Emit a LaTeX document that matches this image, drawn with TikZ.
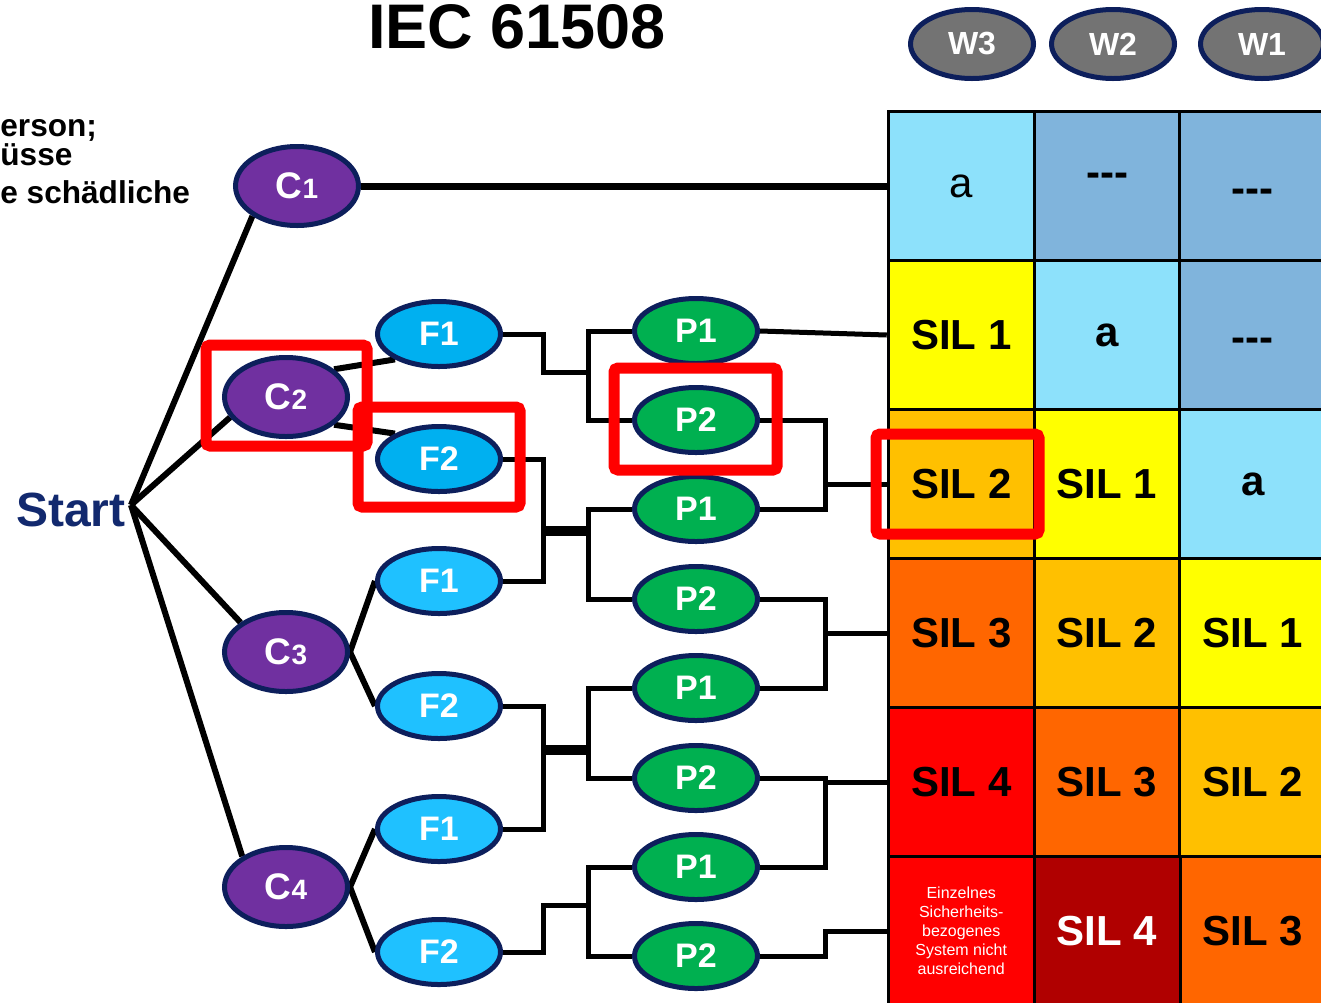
\documentclass[tikz,border=0pt]{standalone}
\usepackage{fontspec}
\setmainfont{Liberation Sans}
\usepackage{tikz}
\usetikzlibrary{shapes.geometric,backgrounds}
\definecolor{navyline}{HTML}{0D1F5C}
\definecolor{startnavy}{HTML}{12296E}
\definecolor{cpurple}{HTML}{7030A0}
\definecolor{fblue}{HTML}{00B0F0}
\definecolor{flight}{HTML}{1FC1FF}
\definecolor{pgreen}{HTML}{00B050}
\definecolor{wgray}{HTML}{737373}
\definecolor{cyanc}{HTML}{8DE1FB}
\definecolor{steel}{HTML}{80B4DC}
\definecolor{silyellow}{HTML}{FFFF00}
\definecolor{silamber}{HTML}{FFC000}
\definecolor{silorange}{HTML}{FF6600}
\definecolor{silred}{HTML}{FF0000}
\definecolor{sildark}{HTML}{B00000}
\definecolor{hlred}{HTML}{FF0000}
\newcommand\titlefnt{\fontsize{31.5}{36}\selectfont\bfseries}
\newcommand\sidefnt{\fontsize{15.8}{18}\selectfont\bfseries}
\newcommand\startfnt{\fontsize{24}{28}\selectfont\bfseries}
\newcommand\cfnt{\fontsize{18.5}{22}\selectfont\bfseries}
\newcommand\ovfnt{\fontsize{17}{20}\selectfont\bfseries}
\newcommand\wfnt{\fontsize{16}{19}\selectfont\bfseries}
\newcommand\silfnt{\fontsize{21}{25}\selectfont\bfseries}
\newcommand\notefnt{\fontsize{8}{9.5}\selectfont}
\newcommand\clabel[1]{C{\fontsize{14}{16}\selectfont#1}}
\newcommand\dashes[1]{\raisebox{#1}[0pt][0pt]{-{}-{}-}}

\begin{document}
\begin{tikzpicture}[x=0.5pt, y=-0.5pt,
    oval/.style={ellipse, draw=navyline, line width=2.5pt, inner sep=0pt, text=white,
                 font=\ovfnt, minimum width=61.5pt, minimum height=32.5pt},
    cnode/.style={oval, fill=cpurple, minimum height=39.5pt, font=\cfnt},
    fnode/.style={oval, fill=fblue},
    fnodel/.style={oval, fill=flight},
    pnode/.style={oval, fill=pgreen},
    wnode/.style={oval, fill=wgray, minimum height=34.5pt, font=\wfnt},
    cell/.style={draw=black, line width=1.5pt, minimum width=73pt, minimum height=74.5pt,
                 inner sep=0pt, font=\silfnt},
    link/.style={line width=2.5pt},
    trunk/.style={line width=3pt},
    joint/.style={line width=5pt},
    hl/.style={draw=hlred, line width=5.5pt, rounded corners=2pt}
]
    \useasboundingbox (0,0) rectangle (1321,1002);
    \clip (0,0) rectangle (1321,1002);

    % headings
    \node[font=\titlefnt, anchor=base, inner sep=0pt] (title) at (517,48) {IEC 61508};
    \node[font=\sidefnt, anchor=base west, inner sep=0pt] (side1) at (0,136) {erson;};
    \node[font=\sidefnt, anchor=base west, inner sep=0pt] (side2) at (0,165) {üsse};
    \node[font=\sidefnt, anchor=base west, inner sep=0pt] (side3) at (0,203) {e schädliche};
    \node[font=\startfnt, text=startnavy, anchor=base east, inner sep=0pt] (start) at (126,526) {Start};
    \coordinate (st) at ([shift={(5,-21)}]start.base east);

    % W columns
    \node[wnode] (w3) at (972,44) {W3};
    \node[wnode] (w2) at (1113,44) {W2};
    \node[wnode] (w1) at (1262,44) {W1};

    % tree
    \node[cnode] (c1) at (297,186) {\clabel{1}};
    \node[cnode] (c2) at (286,397) {\clabel{2}};
    \node[cnode] (c3) at (286,652) {\clabel{3}};
    \node[cnode] (c4) at (286,887) {\clabel{4}};
    \node[fnode] (f2a) at (439,334) {F1};
    \node[fnode] (f2b) at (439,459) {F2};
    \node[fnodel] (f3a) at (439,581) {F1};
    \node[fnodel] (f3b) at (439,706) {F2};
    \node[fnodel] (f4a) at (439,829) {F1};
    \node[fnodel] (f4b) at (439,952) {F2};
    \foreach \n/\y/\t in {1/331/P1, 2/420/P2, 3/509/P1, 4/599/P2, 5/688/P1, 6/778/P2, 7/867/P1, 8/956/P2}
        \node[pnode] (p\n) at (696,\y) {\t};

    % SIL table
    \foreach \r/\c/\fc/\txt in {2/1/silyellow/SIL 1, 3/1/silamber/SIL 2, 3/2/silyellow/SIL 1,
            4/1/silorange/SIL 3, 4/2/silamber/SIL 2, 4/3/silyellow/SIL 1,
            5/1/silred/SIL 4, 5/2/silorange/SIL 3, 5/3/silamber/SIL 2,
            6/3/silorange/SIL 3, 2/2/cyanc/a, 3/3/cyanc/a}
        \node[cell, fill=\fc] (s\r\c) at ({815.5+145.75*\c},{37+149*\r}) {\txt};
    \node[cell, fill=cyanc] (s11) at (961.25,186) {\mdseries a};
    \node[cell, fill=steel] (s12) at (1107,186) {\dashes{0pt}};
    \node[cell, fill=steel] (s13) at (1252.75,186) {\dashes{-8pt}};
    \node[cell, fill=steel] (s23) at (1252.75,335) {\dashes{-8.4pt}};
    \node[cell, fill=silred, text=white, font=\notefnt, align=center] (s61) at (961.25,931)
        {Einzelnes\\Sicherheits-\\bezogenes\\System nicht\\ausreichend};
    \node[cell, fill=sildark, text=white] (s62) at (1107,931) {SIL 4};

    \begin{scope}[on background layer]
        \draw[trunk] (st) -- (c1.214);
        \draw[trunk] (st) -- (c2.200);
        \draw[trunk] (st) -- (c3.147);
        \draw[trunk] (st) -- (c4.145);
        \draw[line width=3.5pt] (c1) -- (s11.west);
        \draw[trunk] (c2.30) -- (f2a.210);
        \draw[trunk] (c2.-30) -- (f2b.150);
        \draw[trunk] (c3.east) -- (f3a.west);
        \draw[trunk] (c3.east) -- (f3b.west);
        \draw[trunk] (c4.east) -- (f4a.west);
        \draw[trunk] (c4.east) -- (f4b.west);

        % F to P
        \coordinate (ja1) at (543,372); \coordinate (jb1) at (588,372);
        \coordinate (ja2) at (543,531); \coordinate (jb2) at (588,531);
        \coordinate (ja3) at (543,750); \coordinate (jb3) at (588,750);
        \coordinate (ja4) at (543,905); \coordinate (jb4) at (588,905);
        \draw[link] (f2a.east) -| (ja1) -- (jb1);
        \draw[link] (f2b.east) -| (ja2) |- (f3a.east);
        \draw[link] (f3b.east) -| (ja3) |- (f4a.east);
        \draw[link] (f4b.east) -| (ja4) -- (jb4);
        \draw[joint] (ja2) -- (jb2);
        \draw[joint] (ja3) -- (jb3);
        \draw[link] (p1.west) -| (jb1) |- (p2.west);
        \draw[link] (p3.west) -| (jb2) |- (p4.west);
        \draw[link] (p5.west) -| (jb3) |- (p6.west);
        \draw[link] (p7.west) -| (jb4) |- (p8.west);

        % P to table
        \coordinate (k1) at (825,484);
        \coordinate (k2) at (825,633);
        \coordinate (k3) at (825,782);
        \coordinate (k4) at (825,931);
        \draw[link] (p1.east) -- (s21.west);
        \draw[link] (p2.east) -| (k1) |- (p3.east);
        \draw[link] (p4.east) -| (k2) |- (p5.east);
        \draw[link] (p6.east) -| (k3) |- (p7.east);
        \draw[link] (k1) -- (s31.west);
        \draw[link] (k2) -- (s41.west);
        \draw[link] (k3) -- (s51.west);
        \draw[link] (p8.east) -| (k4) -- (s61.west);
    \end{scope}

    % highlights
    \draw[hl] (206,345) rectangle (367,446);
    \draw[hl] (358,407) rectangle (520,507);
    \draw[hl] (614,368) rectangle (777,470);
    \draw[hl] (876,434) rectangle (1039,534);
\end{tikzpicture}
\end{document}
